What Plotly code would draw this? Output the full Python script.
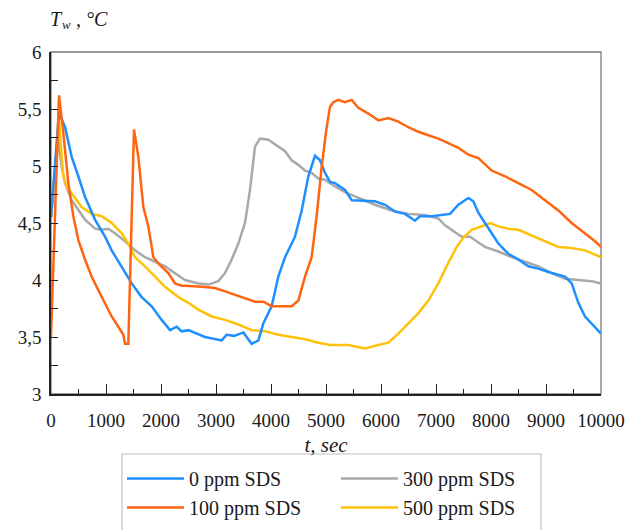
import plotly.graph_objects as go

# ---- data ----
t_0ppm = [0, 145, 255, 376, 497, 618, 800, 982, 1103, 1285, 1467, 1648, 1830, 2012, 2164, 2285, 2376, 2497,
          2800, 3103, 3194, 3330, 3497, 3648, 3770, 3861, 4012, 4133, 4255, 4436, 4558, 4679, 4800, 4891,
          4982, 5073, 5164, 5345, 5467, 5891, 6073, 6255, 6436, 6618, 6709, 6921, 7103, 7255, 7406, 7527,
          7588, 7679, 7770, 7891, 8012, 8133, 8315, 8497, 8679, 8860, 9042, 9224, 9345, 9467, 9588, 9709,
          9830, 10000]
T_0ppm = [4.55, 5.47, 5.34, 5.08, 4.91, 4.73, 4.53, 4.38, 4.26, 4.12, 3.97, 3.85, 3.77, 3.65, 3.56, 3.59, 3.55,
          3.56, 3.50, 3.47, 3.52, 3.51, 3.54, 3.44, 3.47, 3.62, 3.77, 4.03, 4.20, 4.38, 4.61, 4.91, 5.09, 5.05,
          4.94, 4.86, 4.85, 4.79, 4.70, 4.69, 4.66, 4.60, 4.58, 4.52, 4.56, 4.56, 4.57, 4.58, 4.66, 4.70, 4.72,
          4.69, 4.59, 4.50, 4.41, 4.32, 4.23, 4.18, 4.12, 4.10, 4.07, 4.05, 4.03, 3.97, 3.80, 3.68, 3.62, 3.53]

t_100ppm = [0, 145, 224, 315, 406, 497, 618, 739, 861, 982, 1103, 1224, 1315, 1345, 1406, 1509, 1588, 1679,
            1770, 1861, 1982, 2133, 2255, 2376, 2436, 2739, 2982, 3164, 3345, 3527, 3709, 3861, 4012, 4194,
            4376, 4497, 4618, 4739, 4830, 4921, 5012, 5073, 5133, 5224, 5345, 5467, 5588, 5770, 5952, 6133,
            6315, 6497, 6679, 6861, 7042, 7224, 7406, 7588, 7770, 8012, 8255, 8497, 8739, 8982, 9224, 9467,
            9709, 9891, 10000]
T_100ppm = [3.50, 5.62, 5.29, 4.85, 4.56, 4.35, 4.18, 4.03, 3.91, 3.80, 3.68, 3.59, 3.52, 3.44, 3.44, 5.32, 5.08,
            4.64, 4.47, 4.20, 4.13, 4.06, 3.97, 3.95, 3.95, 3.94, 3.93, 3.90, 3.87, 3.84, 3.81, 3.81, 3.77, 3.77,
            3.77, 3.82, 4.03, 4.20, 4.56, 4.99, 5.34, 5.52, 5.56, 5.58, 5.56, 5.58, 5.51, 5.46, 5.40, 5.42, 5.39,
            5.34, 5.30, 5.27, 5.24, 5.20, 5.16, 5.10, 5.07, 4.96, 4.91, 4.85, 4.79, 4.70, 4.61, 4.50, 4.41, 4.34,
            4.29]

t_300ppm = [0, 133, 194, 255, 376, 497, 618, 800, 921, 1042, 1164, 1345, 1527, 1709, 1891, 2073, 2255, 2436,
            2679, 2861, 3042, 3164, 3285, 3406, 3527, 3618, 3709, 3800, 3952, 4103, 4255, 4376, 4497, 4618,
            4739, 4861, 4982, 5164, 5345, 5588, 5891, 6194, 6497, 6800, 7042, 7164, 7345, 7467, 7618, 7891,
            8133, 8376, 8618, 8860, 9103, 9345, 9588, 9830, 10000]
T_300ppm = [4.55, 5.23, 4.99, 4.85, 4.70, 4.61, 4.53, 4.45, 4.44, 4.45, 4.41, 4.34, 4.26, 4.20, 4.16, 4.12, 4.06,
            4.00, 3.97, 3.96, 3.99, 4.06, 4.18, 4.32, 4.50, 4.79, 5.17, 5.24, 5.23, 5.18, 5.13, 5.05, 5.01, 4.96,
            4.94, 4.89, 4.88, 4.82, 4.77, 4.72, 4.66, 4.61, 4.58, 4.57, 4.54, 4.48, 4.42, 4.38, 4.38, 4.29, 4.25,
            4.20, 4.16, 4.12, 4.06, 4.01, 4.00, 3.99, 3.97]

t_500ppm = [0, 145, 224, 285, 436, 558, 739, 921, 1103, 1285, 1406, 1527, 1709, 1891, 2073, 2315, 2497, 2679,
            2921, 3164, 3406, 3648, 3891, 4133, 4376, 4618, 4861, 5073, 5406, 5709, 5952, 6133, 6315, 6497,
            6679, 6861, 7042, 7224, 7376, 7497, 7648, 7830, 7982, 8133, 8315, 8497, 8739, 8982, 9224, 9467,
            9709, 10000]
T_500ppm = [4.55, 5.40, 4.91, 4.82, 4.72, 4.64, 4.58, 4.56, 4.50, 4.41, 4.32, 4.20, 4.12, 4.03, 3.94, 3.85, 3.80,
            3.74, 3.68, 3.65, 3.61, 3.56, 3.55, 3.52, 3.50, 3.48, 3.45, 3.43, 3.43, 3.40, 3.43, 3.45, 3.53, 3.62,
            3.71, 3.82, 3.97, 4.15, 4.29, 4.37, 4.44, 4.47, 4.50, 4.47, 4.45, 4.44, 4.39, 4.34, 4.29, 4.28, 4.26,
            4.20]

series_names = ["0 ppm SDS", "300 ppm SDS", "100 ppm SDS", "500 ppm SDS"]

x_tickvals = [0, 1000, 2000, 3000, 4000, 5000, 6000, 7000, 8000, 9000, 10000]
x_ticktext = ["0", "1000", "2000", "3000", "4000", "5000", "6000", "7000", "8000", "9000", "10000"]
y_tickvals = [3, 3.5, 4, 4.5, 5, 5.5, 6]
y_ticktext = ["3", "3,5", "4", "4,5", "5", "5,5", "6"]

# ---- figure ----
FONT = '"Liberation Serif", "Times New Roman", Times, serif'
INK = "#1a1a1a"
colors = {"0 ppm SDS": "#1E8FFF", "100 ppm SDS": "#FF6510",
          "300 ppm SDS": "#A9A9A9", "500 ppm SDS": "#FFC20A"}
data = {"0 ppm SDS": (t_0ppm, T_0ppm), "100 ppm SDS": (t_100ppm, T_100ppm),
        "300 ppm SDS": (t_300ppm, T_300ppm), "500 ppm SDS": (t_500ppm, T_500ppm)}

fig = go.Figure()
# draw order: gray, yellow, blue, orange (orange on top)
for name in ["300 ppm SDS", "500 ppm SDS", "0 ppm SDS", "100 ppm SDS"]:
    tt, TT = data[name]
    fig.add_trace(go.Scatter(x=tt, y=TT, mode="lines", name=name,
                             line=dict(color=colors[name], width=2.5),
                             legendrank=series_names.index(name) + 1))

W, H = 628, 530
ML, MR, MT, MB = 51, 27, 52, 136
PW, PH = W - ML - MR, H - MT - MB


def px_x(px):
    return (px - ML) / PW


def px_y(py):
    return (H - MB - py) / PH


fig.update_layout(
    width=W, height=H,
    margin=dict(l=ML, r=MR, t=MT, b=MB, autoexpand=False),
    paper_bgcolor="white", plot_bgcolor="white",
    font=dict(family=FONT, size=19, color=INK),
    showlegend=True,
    legend=dict(orientation="h", x=px_x(122), y=px_y(459), xanchor="left", yanchor="top",
                entrywidth=142, entrywidthmode="pixels", itemwidth=57,
                borderwidth=0, bgcolor="rgba(0,0,0,0)",
                font=dict(family=FONT, size=20, color=INK),
                traceorder="normal"),
    xaxis=dict(range=[0, 10000], showgrid=False, zeroline=False,
               showline=True, linecolor="#222", linewidth=1.6,
               ticks="inside", ticklen=10, tickwidth=1.2, tickcolor="#222",
               tickvals=x_tickvals, ticktext=x_ticktext, ticklabelstandoff=8,
               tickfont=dict(family=FONT, size=19),
               minor=dict(dtick=500, ticks="inside", ticklen=5, tickwidth=1.2, tickcolor="#222", showgrid=False),
               title=dict(text="<i>t, sec</i>", standoff=8, font=dict(family=FONT, size=21))),
    yaxis=dict(range=[3, 6], showgrid=False, zeroline=False,
               showline=True, linecolor="#222", linewidth=1.6,
               ticks="inside", ticklen=7, tickwidth=1.2, tickcolor="#222",
               tickvals=y_tickvals, ticktext=y_ticktext, ticklabelstandoff=4,
               tickfont=dict(family=FONT, size=19),
               minor=dict(dtick=0.25, ticks="inside", ticklen=7, tickwidth=1.2, tickcolor="#222", showgrid=False)),
    shapes=[dict(type="rect", xref="paper", yref="paper", x0=0, x1=1, y0=0, y1=1,
                 line=dict(color="#7a7a7a", width=1.3), layer="below"),
            # legend frame (runs past the bottom edge, as in the reference)
            dict(type="rect", xref="paper", yref="paper", x0=px_x(122), x1=px_x(541), y0=px_y(545), y1=px_y(454),
                 line=dict(color="#c0c0c0", width=1.2), fillcolor="rgba(0,0,0,0)", layer="below")],
    annotations=[
        dict(text="<i>T</i>", xref="paper", yref="paper", x=px_x(56), y=px_y(19),
             xanchor="center", yanchor="middle", showarrow=False, font=dict(family=FONT, size=20, color=INK)),
        dict(text="<i>w</i>", xref="paper", yref="paper", x=px_x(66), y=px_y(25),
             xanchor="center", yanchor="middle", showarrow=False, font=dict(family=FONT, size=13, color=INK)),
        dict(text="<i>, °C</i>", xref="paper", yref="paper", x=px_x(92), y=px_y(19),
             xanchor="center", yanchor="middle", showarrow=False, font=dict(family=FONT, size=20, color=INK)),
    ],
)

fig.write_html("out.html")
